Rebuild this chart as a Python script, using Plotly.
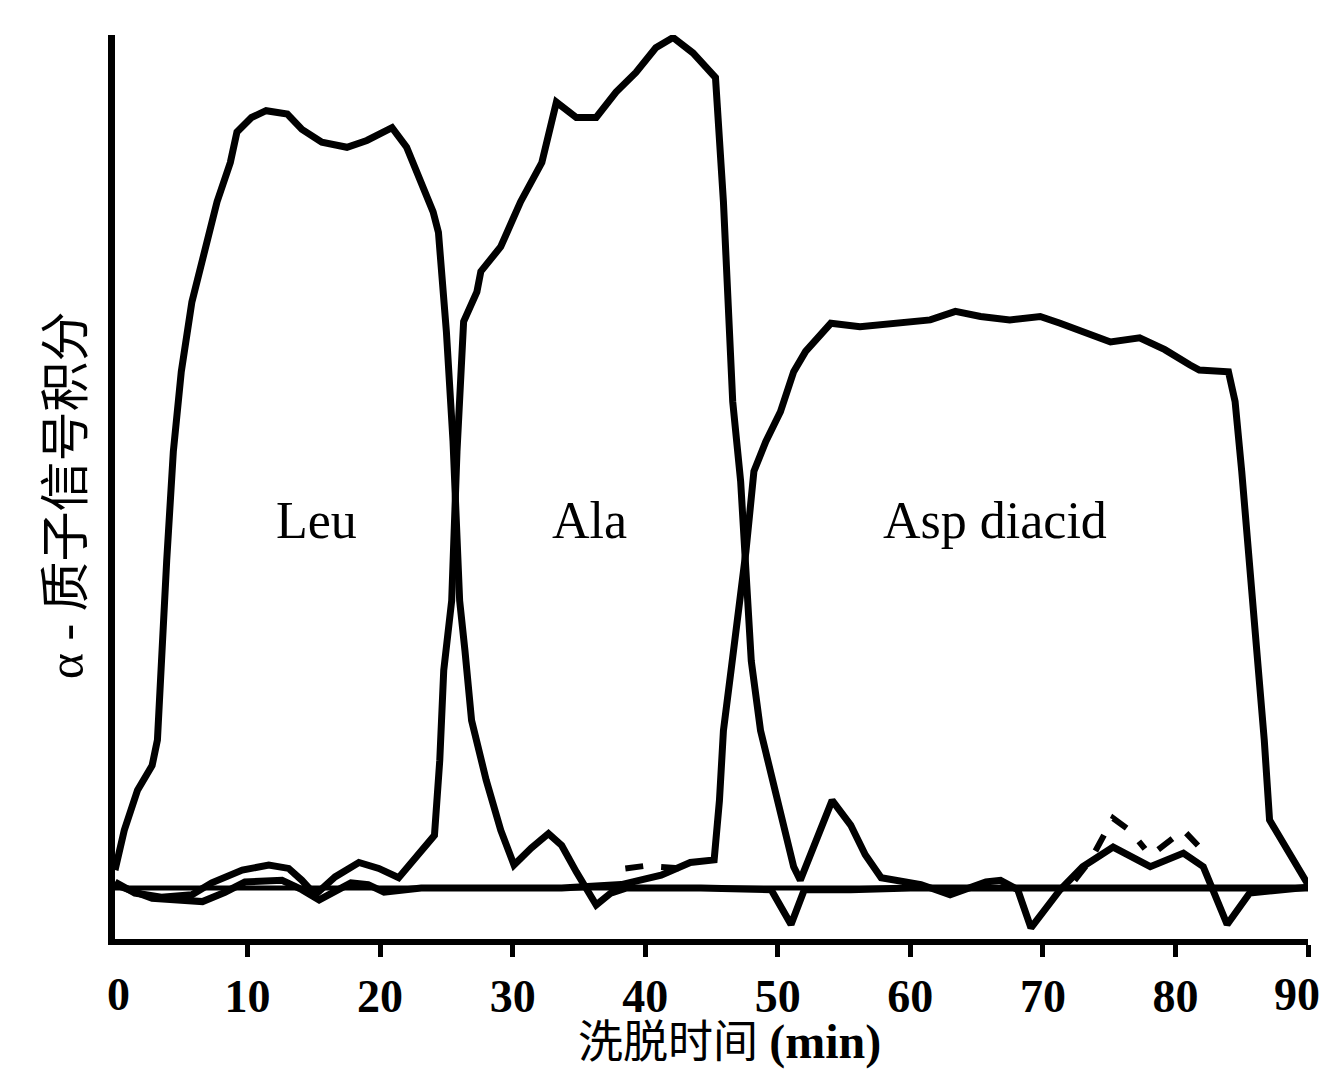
import plotly.graph_objects as go

# ---- data (elution time in min, signal in arbitrary units) ----
leu_x = [0, 0.7, 1.7, 2.8, 3.2, 3.4, 3.9, 4.4, 5.0, 5.8, 6.9, 7.7, 8.7, 9.2, 10.3, 11.4, 13.0, 14.1,
         15.6, 17.5, 19.0, 20.9, 22.0, 23.1, 24.0, 24.4, 25.0, 25.5, 26.0, 26.4, 26.9, 28.0, 29.1,
         30.1, 31.4, 32.7, 33.7, 34.8, 36.3, 37.4, 38.6, 44.2, 49.5, 51.0, 52.0, 55.5, 60, 70, 80, 90]
leu_y = [2.1, 6.8, 11.5, 14.4, 17.4, 24.4, 38.5, 51.3, 60.7, 68.9, 76.0, 80.7, 85.3, 88.9, 90.6, 91.4,
         91.0, 89.2, 87.7, 87.1, 87.9, 89.4, 87.1, 83.0, 79.5, 77.1, 65.4, 52.5, 33.8, 27.9, 19.7, 12.7,
         6.8, 2.7, 4.7, 6.4, 5.0, 1.9, -2.0, -0.6, 0.0, 0.0, -0.2, -4.3, -0.2, -0.2, 0.0, 0.0, 0.0, 0.0]

ala_x = [0, 1.5, 3.5, 5.8, 7.3, 9.6, 11.6, 13.1, 14.1, 15.1, 16.6, 18.4, 19.9, 21.4, 24.1, 24.5, 24.8,
         25.4, 25.8, 26.3, 27.3, 27.6, 29.1, 30.6, 32.2, 33.3, 34.8, 36.3, 37.8, 39.3, 40.8, 42.1, 43.6,
         45.3, 45.9, 46.2, 46.6, 47.2, 47.6, 48.0, 48.7, 49.8, 51.2, 51.7, 52.9, 54.1, 55.5, 56.6, 57.8,
         60.8, 63.0, 65.7, 66.8, 68.1, 69.1, 71.3, 73.0, 75.3, 78.1, 80.6, 82.1, 83.9, 85.6, 90.0]
ala_y = [0.7, -0.6, -1.1, -0.8, 0.6, 2.1, 2.7, 2.3, 0.9, -0.8, 1.3, 3.0, 2.3, 1.2, 6.2, 15.0, 25.6,
         33.8, 51.3, 66.6, 70.1, 72.5, 75.4, 80.7, 85.3, 92.4, 90.6, 90.6, 93.6, 95.9, 98.8, 100.0, 98.2,
         95.3, 80.7, 68.9, 57.2, 47.8, 36.1, 26.7, 18.5, 11.5, 2.5, 0.9, 5.6, 10.3, 7.4, 3.9, 1.2,
         0.4, -0.8, 0.7, 0.9, -0.2, -4.7, -0.2, 2.5, 4.8, 2.5, 4.1, 2.5, -4.3, -0.6, 0.1]

asp_x = [0, 2.8, 6.6, 8.3, 9.8, 12.6, 14.1, 15.4, 17.8, 19.1, 20.3, 23.1, 29.1, 33.7, 38.2, 41.2,
         43.4, 45.2, 45.6, 45.9, 46.5, 47.2, 47.6, 48.2, 49.1, 50.2, 51.2, 52.1, 54.0, 56.2, 59.3, 61.5,
         63.4, 65.3, 67.5, 69.8, 71.3, 73.6, 75.1, 77.3, 79.2, 81.1, 81.8, 84.0, 84.5, 85.0, 85.6, 86.2,
         86.7, 87.1, 88.3, 89.4, 90.0]
asp_y = [0.4, -1.2, -1.6, -0.5, 0.7, 0.9, -0.2, -1.4, 0.6, 0.4, -0.5, 0.0, 0.0, 0.0, 0.4, 1.5,
         3.0, 3.3, 10.3, 18.5, 25.9, 33.8, 39.6, 49.0, 52.5, 56.0, 60.7, 63.1, 66.4, 66.0, 66.4, 66.8,
         67.8, 67.2, 66.8, 67.2, 66.4, 65.1, 64.2, 64.7, 63.3, 61.5, 60.9, 60.7, 57.2, 49.0, 38.5, 27.9,
         17.4, 8.0, 5.0, 2.1, 0.4]

dash_x = [38.5, 40.0, 42.7, None, 72.4, 73.6, 75.3, 76.6, 77.7, None, 78.7, 80.6, 81.7]
dash_y = [2.3, 2.6, 2.3, None, 0.9, 3.3, 8.2, 6.7, 4.6, None, 4.5, 6.8, 5.0]

base_x = [0, 90]
base_y = [0, 0]

x_ticks = [10, 20, 30, 40, 50, 60, 70, 80, 90]
x_tick_labels = ["10", "20", "30", "40", "50", "60", "70", "80", "90"]

labels = ["Leu", "Ala", "Asp diacid"]
label_x = [15.2, 35.8, 66.4]
label_y = [43.2, 43.2, 43.2]

# ---- figure ----
fig = go.Figure()
line_style = dict(color="black", width=7)
fig.add_trace(go.Scatter(x=base_x, y=base_y, mode="lines", line=dict(color="black", width=5)))
for xs, ys in [(leu_x, leu_y), (ala_x, ala_y), (asp_x, asp_y)]:
    fig.add_trace(go.Scatter(x=xs, y=ys, mode="lines", line=line_style))
fig.add_trace(go.Scatter(x=dash_x, y=dash_y, mode="lines", connectgaps=False,
                         line=dict(color="black", width=6, dash="dash")))

for t, lx, ly in zip(labels, label_x, label_y):
    fig.add_annotation(x=lx, y=ly, text=t, showarrow=False,
                       font=dict(family="Liberation Serif", size=52, color="black"))

tick_font = dict(family="Liberation Serif", size=46, color="black")
# end labels drawn as annotations so they stay inside the page
fig.add_annotation(x=0.3, y=-6.0, yanchor="top", yshift=-28, text="<b>0</b>", showarrow=False,
                   font=tick_font)
fig.add_annotation(x=x_ticks[-1], y=-6.0, xanchor="right", yanchor="top", xshift=14, yshift=-28,
                   text="<b>%s</b>" % x_tick_labels[-1], showarrow=False, font=tick_font)

fig.add_annotation(xref="paper", yref="paper", x=0.515, y=-0.114, yanchor="middle",
                   text="洗脱时间 <b><span style='font-size:48px'>(min)</span></b>", showarrow=False,
                   font=dict(family="Liberation Serif, Noto Sans CJK SC", size=45, color="black"))
fig.add_annotation(xref="paper", yref="paper", x=-0.041, y=0.491, xanchor="center", yanchor="middle",
                   text="α - 质子信号积分", textangle=-90, showarrow=False,
                   font=dict(family="Liberation Serif, Noto Sans CJK SC", size=50, color="black"))

# the page body adds an 8 px margin, so the figure is 16 px smaller than the window
fig.update_layout(
    width=1314, height=1062,
    margin=dict(l=107, r=14, t=27, b=131),
    paper_bgcolor="white", plot_bgcolor="white",
    showlegend=False,
)
fig.update_xaxes(range=[0, 90], showgrid=False, zeroline=False,
                 showline=True, linecolor="black", linewidth=6,
                 tickmode="array", tickvals=x_ticks,
                 ticktext=["<b>%s</b>" % t for t in x_tick_labels[:-1]] + [""],
                 ticks="outside", ticklen=12, tickwidth=5, tickcolor="black",
                 tickfont=tick_font)
fig.update_yaxes(range=[-6.0, 100.3], showgrid=False, zeroline=False,
                 showline=True, linecolor="black", linewidth=7,
                 showticklabels=False, ticks="")

fig.write_html("out.html")
